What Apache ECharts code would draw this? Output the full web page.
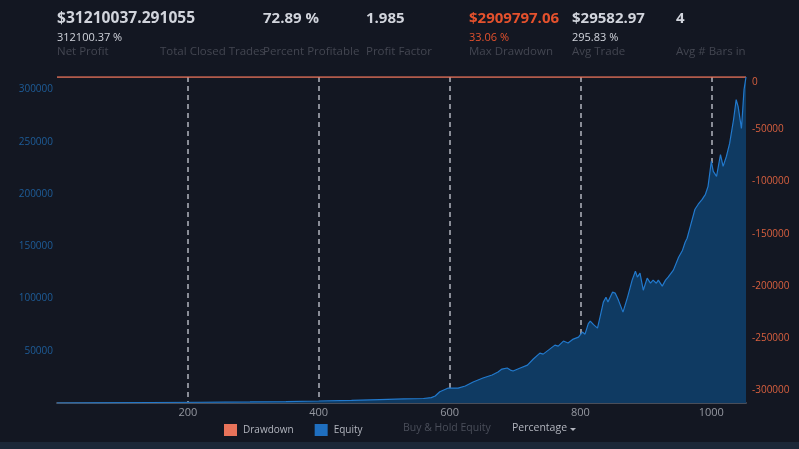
<!DOCTYPE html>
<html><head><meta charset="utf-8">
<script src="https://cdn.jsdelivr.net/npm/echarts@6/dist/echarts.min.js"></script>
<style>html,body{margin:0;padding:0;background:#131722;}#c{width:799px;height:449px;}</style>
</head><body><div id="c"></div>
<script>
var tradeNo = [0,60,142,220,295,350,400,450,493,530,560,572,578,585,598,605,613,624,636,651,665,674,680,688,693,697,708,719,728,738,743,751,761,766,774,781,789,797,803,807,812,815,820,826,830,835,839,842,849,853,858,865,872,879,884,887,891,896,902,907,911,916,919,925,930,934,937,942,950,956,960,963,968,975,980,986,991,995,1000,1003,1008,1014,1018,1023,1028,1034,1038,1041,1046,1047,1050,1053];
var equityPct = [0,200,500,700,1000,1400,1900,2600,3300,3900,4300,5200,6700,10800,14300,14300,14300,16300,20100,23900,26800,29600,32500,33500,31500,30600,33500,36300,42100,47800,46800,50600,55400,54500,59300,57400,61200,63100,67900,65900,76000,78400,75000,71700,82500,96600,101300,96600,106100,105200,98500,87000,101300,117600,126200,120500,124300,108000,119500,114700,117600,114700,117600,111900,117600,120500,119500,127200,139600,146300,153900,157700,169400,185500,190300,195000,199800,207400,231300,221700,216900,237900,226500,236000,248500,271400,290500,283800,262900,271400,300100,312100];
var drawdownX = [0,1053];
var drawdownPct = [0,0];
var xTicks = [200,400,600,800,1000];
var headValues = ['$31210037.291055','','72.89 %','1.985','$2909797.06','$29582.97','4'];
var headSub = ['312100.37 %','','','','33.06 %','295.83 %',''];
var headLabels = ['Net Profit','Total Closed Trades','Percent Profitable','Profit Factor','Max Drawdown','Avg Trade','Avg # Bars in'];

var colX = [57,160,263,366,469,572,676];
var graphics = [];
for (var i=0;i<headLabels.length;i++){
  var red = (i===4);
  graphics.push({type:'text',left:colX[i],top:11,style:{text:headValues[i],fill:red?'#e4512d':'#d1d4dc',font:(i===0?'bold 15.6px':'bold 15px')+' "Open Sans"'}});
  graphics.push({type:'text',left:colX[i],top:32,style:{text:headSub[i],fill:red?'#e4512d':'#d1d4dc',font:'11px "Open Sans"'}});
  graphics.push({type:'text',left:colX[i],top:46,style:{text:headLabels[i],fill:'#434651',font:'11.5px "Open Sans"'}});
}
graphics.push({type:'text',left:403,top:423,style:{text:'Buy & Hold Equity',fill:'#4a4e5a',font:'10.5px "Open Sans"'}});
graphics.push({type:'text',left:512,top:423,style:{text:'Percentage',fill:'#b2b5be',font:'10.5px "Open Sans"'}});
graphics.push({type:'polygon',shape:{points:[[570,428],[576,428],[573,431]]},style:{fill:'#b2b5be'}});
graphics.push({type:'rect',left:0,top:442,shape:{width:799,height:7},style:{fill:'#1c2838'}});

var chart = echarts.init(document.getElementById('c'));
chart.setOption({
  backgroundColor:'#131722',
  animation:false,
  grid:{left:57,right:53,top:77,bottom:46},
  graphic:graphics,
  legend:{left:224,top:424,padding:0,itemWidth:13,itemHeight:12,itemGap:21,icon:'rect',
    textStyle:{color:'#b2b5be',fontSize:10,fontFamily:'Open Sans',padding:[0,0,0,1]},
    data:['Drawdown','Equity']},
  xAxis:{type:'value',min:0,max:1053,interval:200,
    axisLine:{show:true,lineStyle:{color:'#4a4e59',width:2}},
    axisTick:{show:false},
    axisLabel:{color:'#9598a1',fontSize:11,fontFamily:'Open Sans',margin:4,showMinLabel:false,showMaxLabel:false,
      formatter:function(v){return xTicks.indexOf(v)>=0?String(v):'';}},
    splitLine:{show:true,showMinLine:false,showMaxLine:false,lineStyle:{color:'#b2b5be',type:[5,4],width:1.5}}},
  yAxis:[
    {type:'value',min:0,max:312100,interval:50000,position:'left',
      axisLine:{show:false},axisTick:{show:false},splitLine:{show:false},
      axisLabel:{color:'#1e5d99',fontSize:10,fontFamily:'Open Sans',margin:4,showMinLabel:false,showMaxLabel:false,
        formatter:function(v){return String(v);}}},
    {type:'value',min:0,max:312100,interval:50000,inverse:true,position:'right',
      axisLine:{show:false},axisTick:{show:false},splitLine:{show:false},
      axisLabel:{color:'#d9603f',fontSize:10,fontFamily:'Open Sans',showMaxLabel:false,margin:6,
        verticalAlignMinLabel:'top',
        formatter:function(v){return v===0?'0':'-'+v;}}}
  ],
  series:[
    {name:'Drawdown',type:'line',yAxisIndex:1,showSymbol:false,symbol:'none',
      itemStyle:{color:'#e8735a'},lineStyle:{color:'#e8735a',width:1.5},
      data:drawdownX.map(function(x,i){return [x,drawdownPct[i]];})},
    {name:'Equity',type:'line',yAxisIndex:0,showSymbol:false,symbol:'none',
      itemStyle:{color:'#1f6fc0'},lineStyle:{color:'#2279cc',width:1.2},
      areaStyle:{color:'#0f3a62',opacity:1},
      data:tradeNo.map(function(x,i){return [x,equityPct[i]];})}
  ]
});
</script></body></html>
